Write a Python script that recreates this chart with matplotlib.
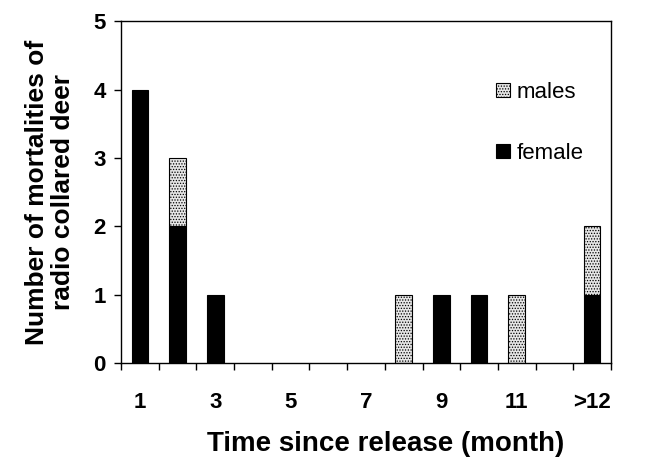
import numpy as np
import matplotlib.pyplot as plt

plt.rcParams['font.family'] = ['Liberation Sans', 'DejaVu Sans']
plt.rcParams['font.weight'] = 'bold'
plt.rcParams['hatch.color'] = '#808080'
plt.rcParams['hatch.linewidth'] = 0.6

# Datos: mortalidad por mes desde la liberación
months = ['1', '2', '3', '4', '5', '6', '7', '8', '9', '10', '11', '12', '>12']
female = [4, 2, 1, 0, 0, 0, 0, 0, 1, 1, 0, 0, 1]
males = [0, 1, 0, 0, 0, 0, 0, 1, 0, 0, 1, 0, 1]
shown_labels = ['1', '3', '5', '7', '9', '11', '>12']

fig = plt.figure(figsize=(6.64, 4.57), dpi=100)
ax = fig.add_axes([0.1822, 0.2057, 0.738, 0.748])

x = np.arange(1, len(months) + 1)
female = np.array(female)
males = np.array(males)
f_ok = female > 0
m_ok = males > 0
ax.bar(x[f_ok], female[f_ok], width=0.44, color='black', edgecolor='black',
       linewidth=0.8, label='female')
ax.bar(x[m_ok], males[m_ok], width=0.44, bottom=female[m_ok], color='#e6e6e6',
       edgecolor='black', linewidth=0.8, hatch='......', label='males')

ax.set_xlim(0.5, len(months) + 0.5)
ax.set_ylim(0, 5)

# ticks entre categorías, etiquetas en meses impares
ax.set_xticks(np.arange(0.5, len(months) + 1, 1))
ax.set_xticklabels([])
label_pos = [months.index(m) + 1 for m in shown_labels]
ax.set_xticks(label_pos, minor=True)
ax.set_xticklabels(shown_labels, minor=True)
ax.tick_params(axis='x', which='minor', length=0, pad=21, labelsize=16)
ax.tick_params(axis='x', which='major', direction='out', length=5, width=1)
ax.set_yticks(range(0, 6))
ax.tick_params(axis='y', direction='out', length=5, width=1, labelsize=16, pad=6)

for s in ax.spines.values():
    s.set_linewidth(1)

ax.set_xlabel('Time since release (month)', fontsize=20, fontweight='bold', labelpad=13)
ax.xaxis.label.set_x(0.54)
ax.set_ylabel('Number of mortalities of\nradio collared deer', fontsize=19,
              fontweight='bold', labelpad=13, linespacing=1.1)

handles, labels = ax.get_legend_handles_labels()
ax.legend(handles[::-1], labels[::-1], loc='upper left', bbox_to_anchor=(0.725, 0.88),
          frameon=False, handlelength=0.6, handleheight=0.6,
          handletextpad=0.3, labelspacing=1.8, prop={'weight': 'normal', 'size': 16})

fig.savefig('out.png', dpi=100)
